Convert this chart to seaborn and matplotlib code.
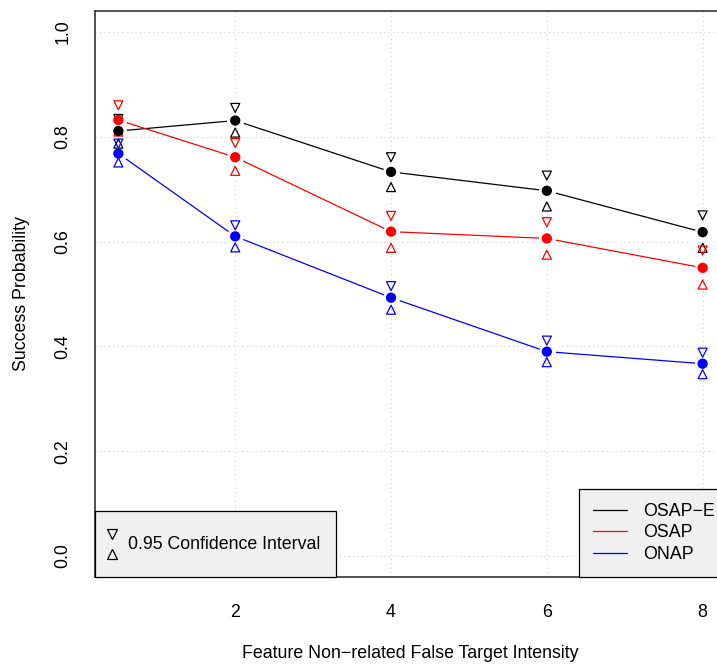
import numpy as np
import pandas as pd
import matplotlib
matplotlib.use("Agg")
import matplotlib.pyplot as plt
import seaborn as sns
from matplotlib.lines import Line2D
from matplotlib.legend_handler import HandlerBase

# ---- data -------------------------------------------------------------
intensity = [0.5, 2, 4, 6, 8]
series_names = ["OSAP\u2212E", "OSAP", "ONAP"]
series_colors = ["black", "red", "blue"]

osap_e_mean = [0.811, 0.831, 0.733, 0.697, 0.618]
osap_e_upper = [0.834, 0.855, 0.761, 0.726, 0.650]
osap_e_lower = [0.787, 0.808, 0.704, 0.667, 0.588]

osap_mean = [0.832, 0.761, 0.619, 0.606, 0.550]
osap_upper = [0.860, 0.788, 0.649, 0.637, 0.583]
osap_lower = [0.810, 0.735, 0.588, 0.575, 0.518]

onap_mean = [0.768, 0.610, 0.493, 0.390, 0.367]
onap_upper = [0.787, 0.631, 0.515, 0.411, 0.388]
onap_lower = [0.751, 0.589, 0.470, 0.370, 0.347]

x_ticks = [2, 4, 6, 8]
y_ticks = [0.0, 0.2, 0.4, 0.6, 0.8, 1.0]

frames = []
for name, m, u, l in zip(series_names,
                         [osap_e_mean, osap_mean, onap_mean],
                         [osap_e_upper, osap_upper, onap_upper],
                         [osap_e_lower, osap_lower, onap_lower]):
    frames.append(pd.DataFrame({"intensity": intensity, "mean": m,
                                "upper": u, "lower": l, "method": name}))
df = pd.concat(frames, ignore_index=True)
palette = dict(zip(series_names, series_colors))

# ---- style ------------------------------------------------------------
sns.set_theme(style="white")
FS = 12.8
plt.rcParams["font.family"] = ["Liberation Sans", "DejaVu Sans"]
plt.rcParams["font.size"] = FS
plt.rcParams["text.color"] = "black"
plt.rcParams["axes.labelcolor"] = "black"
plt.rcParams["xtick.color"] = "black"
plt.rcParams["ytick.color"] = "black"

W, H = 717, 667
fig = plt.figure(figsize=(W / 100, H / 100), dpi=100)
ax_l, ax_r, ax_t, ax_b = 95, 726, 11, 577
ax = fig.add_axes([ax_l / W, (H - ax_b) / H, (ax_r - ax_l) / W, (ax_b - ax_t) / H])
ax.set_xlim(0.2, 8.3)
ax.set_ylim(-0.04, 1.04)

# dotted reference grid
for xv in x_ticks:
    ax.axvline(xv, color="#d3d3d3", lw=0.8, ls=(0, (1, 3)), zorder=0)
for yv in y_ticks:
    ax.axhline(yv, color="#d3d3d3", lw=0.8, ls=(0, (1, 3)), zorder=0)

# connecting lines
sns.lineplot(data=df, x="intensity", y="mean", hue="method", palette=palette,
             hue_order=series_names, lw=0.9, legend=False, ax=ax, zorder=2,
             estimator=None, sort=True)
# small gaps where the lines meet the points
sns.scatterplot(data=df, x="intensity", y="mean", color="white", s=150,
                linewidth=0, legend=False, ax=ax, zorder=2.5)
# confidence bounds: open triangles
for name in series_names:
    sub = df[df["method"] == name]
    ax.scatter(sub["intensity"], sub["upper"], marker="v", s=42,
               facecolors="none", edgecolors=palette[name], linewidths=0.9,
               zorder=3)
    ax.scatter(sub["intensity"], sub["lower"], marker="^", s=42,
               facecolors="none", edgecolors=palette[name], linewidths=0.9,
               zorder=3)
# point estimates
sns.scatterplot(data=df, x="intensity", y="mean", hue="method", palette=palette,
                hue_order=series_names, s=55, linewidth=0, legend=False, ax=ax,
                zorder=4)

# ---- axes -------------------------------------------------------------
ax.set_xticks(x_ticks)
ax.set_xticklabels([str(v) for v in x_ticks])
ax.set_yticks(y_ticks)
ax.set_yticklabels([f"{v:.1f}" for v in y_ticks], rotation=90, va="center")
ax.tick_params(axis="both", direction="out", length=8.5, width=1.0,
               color="#333333", labelsize=FS, labelcolor="black")
ax.tick_params(axis="x", pad=11)
ax.tick_params(axis="y", pad=8.5)
for sp in ax.spines.values():
    sp.set_color("#333333")
    sp.set_linewidth(1.2)
ax.set_xlabel("Feature Non\u2212related False Target Intensity", fontsize=FS,
              labelpad=17.5)
ax.set_ylabel("Success Probability", fontsize=FS, labelpad=17.5)


# ---- legends ----------------------------------------------------------
class StackedTriangles(HandlerBase):
    def create_artists(self, legend, orig_handle, xdescent, ydescent,
                       width, height, fontsize, trans):
        cx = width / 2 - xdescent
        top = Line2D([cx], [height * 0.80 - ydescent], marker="v", ls="none",
                     markersize=7, markerfacecolor="none",
                     markeredgecolor="black", markeredgewidth=0.9)
        bot = Line2D([cx], [height * 0.20 - ydescent], marker="^", ls="none",
                     markersize=7, markerfacecolor="none",
                     markeredgecolor="black", markeredgewidth=0.9)
        top.set_transform(trans)
        bot.set_transform(trans)
        return [top, bot]


ci_handle = Line2D([], [])
leg_ci = ax.legend([ci_handle], ["0.95 Confidence Interval"],
                   handler_map={Line2D: StackedTriangles()},
                   loc="lower left", bbox_to_anchor=(0, 0), borderaxespad=0,
                   fancybox=False, framealpha=1, facecolor="#f0f0f0",
                   edgecolor="black", fontsize=FS, handlelength=0.05,
                   handleheight=2.48, handletextpad=0.85, borderpad=0.93)
leg_ci.get_frame().set_linewidth(0.9)
leg_ci.set_zorder(10)
ax.add_artist(leg_ci)

line_handles = [Line2D([], [], color=c, lw=0.9) for c in series_colors]
leg_m = ax.legend(line_handles, series_names, loc="lower right",
                  bbox_to_anchor=(1.005, 0), borderaxespad=0, fancybox=False,
                  framealpha=1, facecolor="#f0f0f0", edgecolor="black",
                  fontsize=FS, handlelength=1.9, handletextpad=0.9,
                  labelspacing=0.25, borderpad=0.8)
leg_m.get_frame().set_linewidth(0.9)
leg_m.set_zorder(10)

fig.savefig("out.png", dpi=100)
